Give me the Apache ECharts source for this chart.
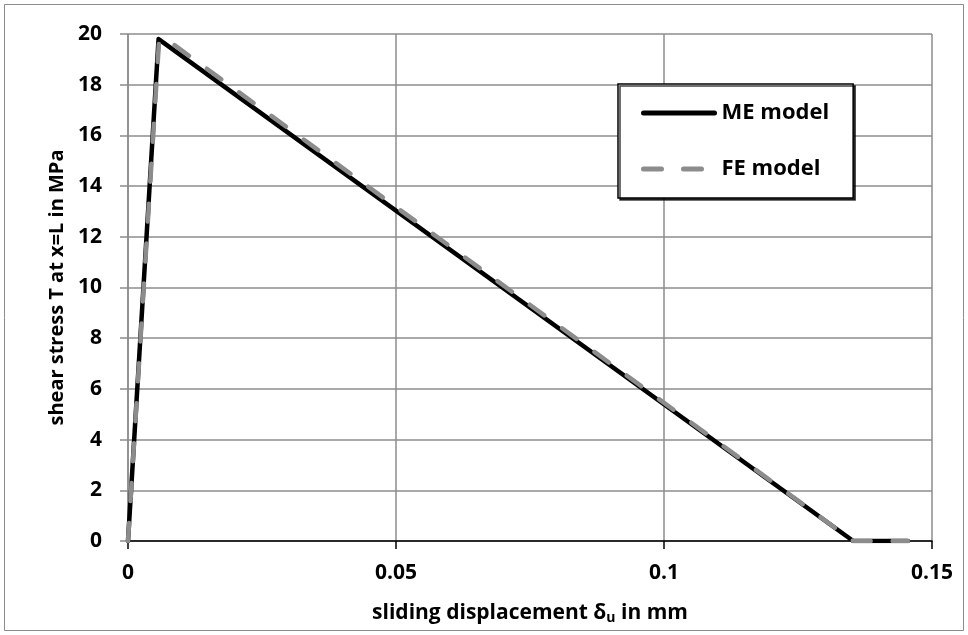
<!DOCTYPE html>
<html><head><meta charset="utf-8">
<script src="https://cdn.jsdelivr.net/npm/echarts@6/dist/echarts.min.js"></script>
<style>html,body{margin:0;padding:0;background:#fff}#c{width:968px;height:635px}</style>
</head><body><div id="c"></div>
<script>
const meX = [0, 0.0057, 0.1353, 0.1455];
const meY = [0, 19.8, 0, 0];
const feX = [0, 0.0058, 0.0068, 0.1353, 0.1455];
const feY = [0, 19.75, 19.85, 0, 0];
const xTicks = [0, 0.05, 0.1, 0.15];
const yTicks = [0, 2, 4, 6, 8, 10, 12, 14, 16, 18, 20];

const font = '"Open Sans", sans-serif';
const chart = echarts.init(document.getElementById('c'));
chart.setOption({
  animation: false,
  backgroundColor: '#fff',
  graphic: [{type:'rect', shape:{x:4.5,y:4.5,width:959,height:626}, style:{fill:'none', stroke:'#8c8c8c', lineWidth:1}, silent:true}],
  grid: {left:128, right:36, top:34, bottom:94},
  legend: {
    left: 618, top: 84, orient:'vertical',
    padding:[17,24,17,23], itemGap: 32, itemWidth: 71, itemHeight: 14,
    backgroundColor:'#fff', borderColor:'#000', borderWidth:1.5,
    shadowColor:'rgba(0,0,0,0.75)', shadowOffsetX:2, shadowOffsetY:2, shadowBlur:0,
    itemStyle:{opacity:0},
    lineStyle:{width:5, cap:'round'},
    textStyle:{fontFamily:font, fontWeight:'bold', fontSize:22, lineHeight:24, color:'#000', padding:[0,0,0,2]},
    data:['ME model','FE model']
  },
  xAxis: {
    type:'value', min:0, max:0.15, interval:0.05,
    name:'{a|sliding displacement δ}{s|u}{a| in mm}', nameLocation:'middle', nameGap:60,
    nameTextStyle:{rich:{a:{fontFamily:font,fontWeight:'bold',fontSize:21,color:'#000'}, s:{fontFamily:font,fontWeight:'bold',fontSize:14,color:'#000',padding:[10,0,0,0]}}},
    axisLine:{show:true, onZero:false, lineStyle:{color:'#000', width:1.5}},
    axisTick:{show:true, inside:false, length:8, lineStyle:{color:'#000', width:1.5}},
    axisLabel:{fontFamily:font, fontWeight:'bold', fontSize:21, color:'#000', margin:22,
      formatter: v => { const t = xTicks.find(x => Math.abs(x - v) < 1e-9); return t === undefined ? '' : String(t); }},
    splitLine:{show:true, lineStyle:{color:'#8c8c8c', width:1.5}}
  },
  yAxis: {
    type:'value', min:0, max:20, interval:2,
    name:'shear stress T at x=L in MPa', nameLocation:'middle', nameGap:60,
    nameTextStyle:{fontFamily:font, fontWeight:'bold', fontSize:20, color:'#000'},
    axisLine:{show:true, onZero:false, lineStyle:{color:'#8c8c8c', width:1.5}},
    axisTick:{show:true, inside:false, length:8, lineStyle:{color:'#8c8c8c', width:1.5}},
    axisLabel:{fontFamily:font, fontWeight:'bold', fontSize:21, color:'#000', margin:26,
      formatter: v => yTicks.includes(v) ? String(v) : ''},
    splitLine:{show:true, lineStyle:{color:'#8c8c8c', width:1.5}}
  },
  series: [
    {name:'ME model', type:'line', symbol:'none', data: meX.map((x,i)=>[x, meY[i]]),
     lineStyle:{color:'#000', width:4.5, cap:'round', join:'round'}, itemStyle:{color:'#000'}, z:2},
    {name:'FE model', type:'line', symbol:'none', data: feX.map((x,i)=>[x, feY[i]]),
     lineStyle:{color:'#8c8c8c', width:4.5, type:[18,22], cap:'round', join:'round'}, itemStyle:{color:'#8c8c8c'}, z:3}
  ]
});
</script></body></html>
